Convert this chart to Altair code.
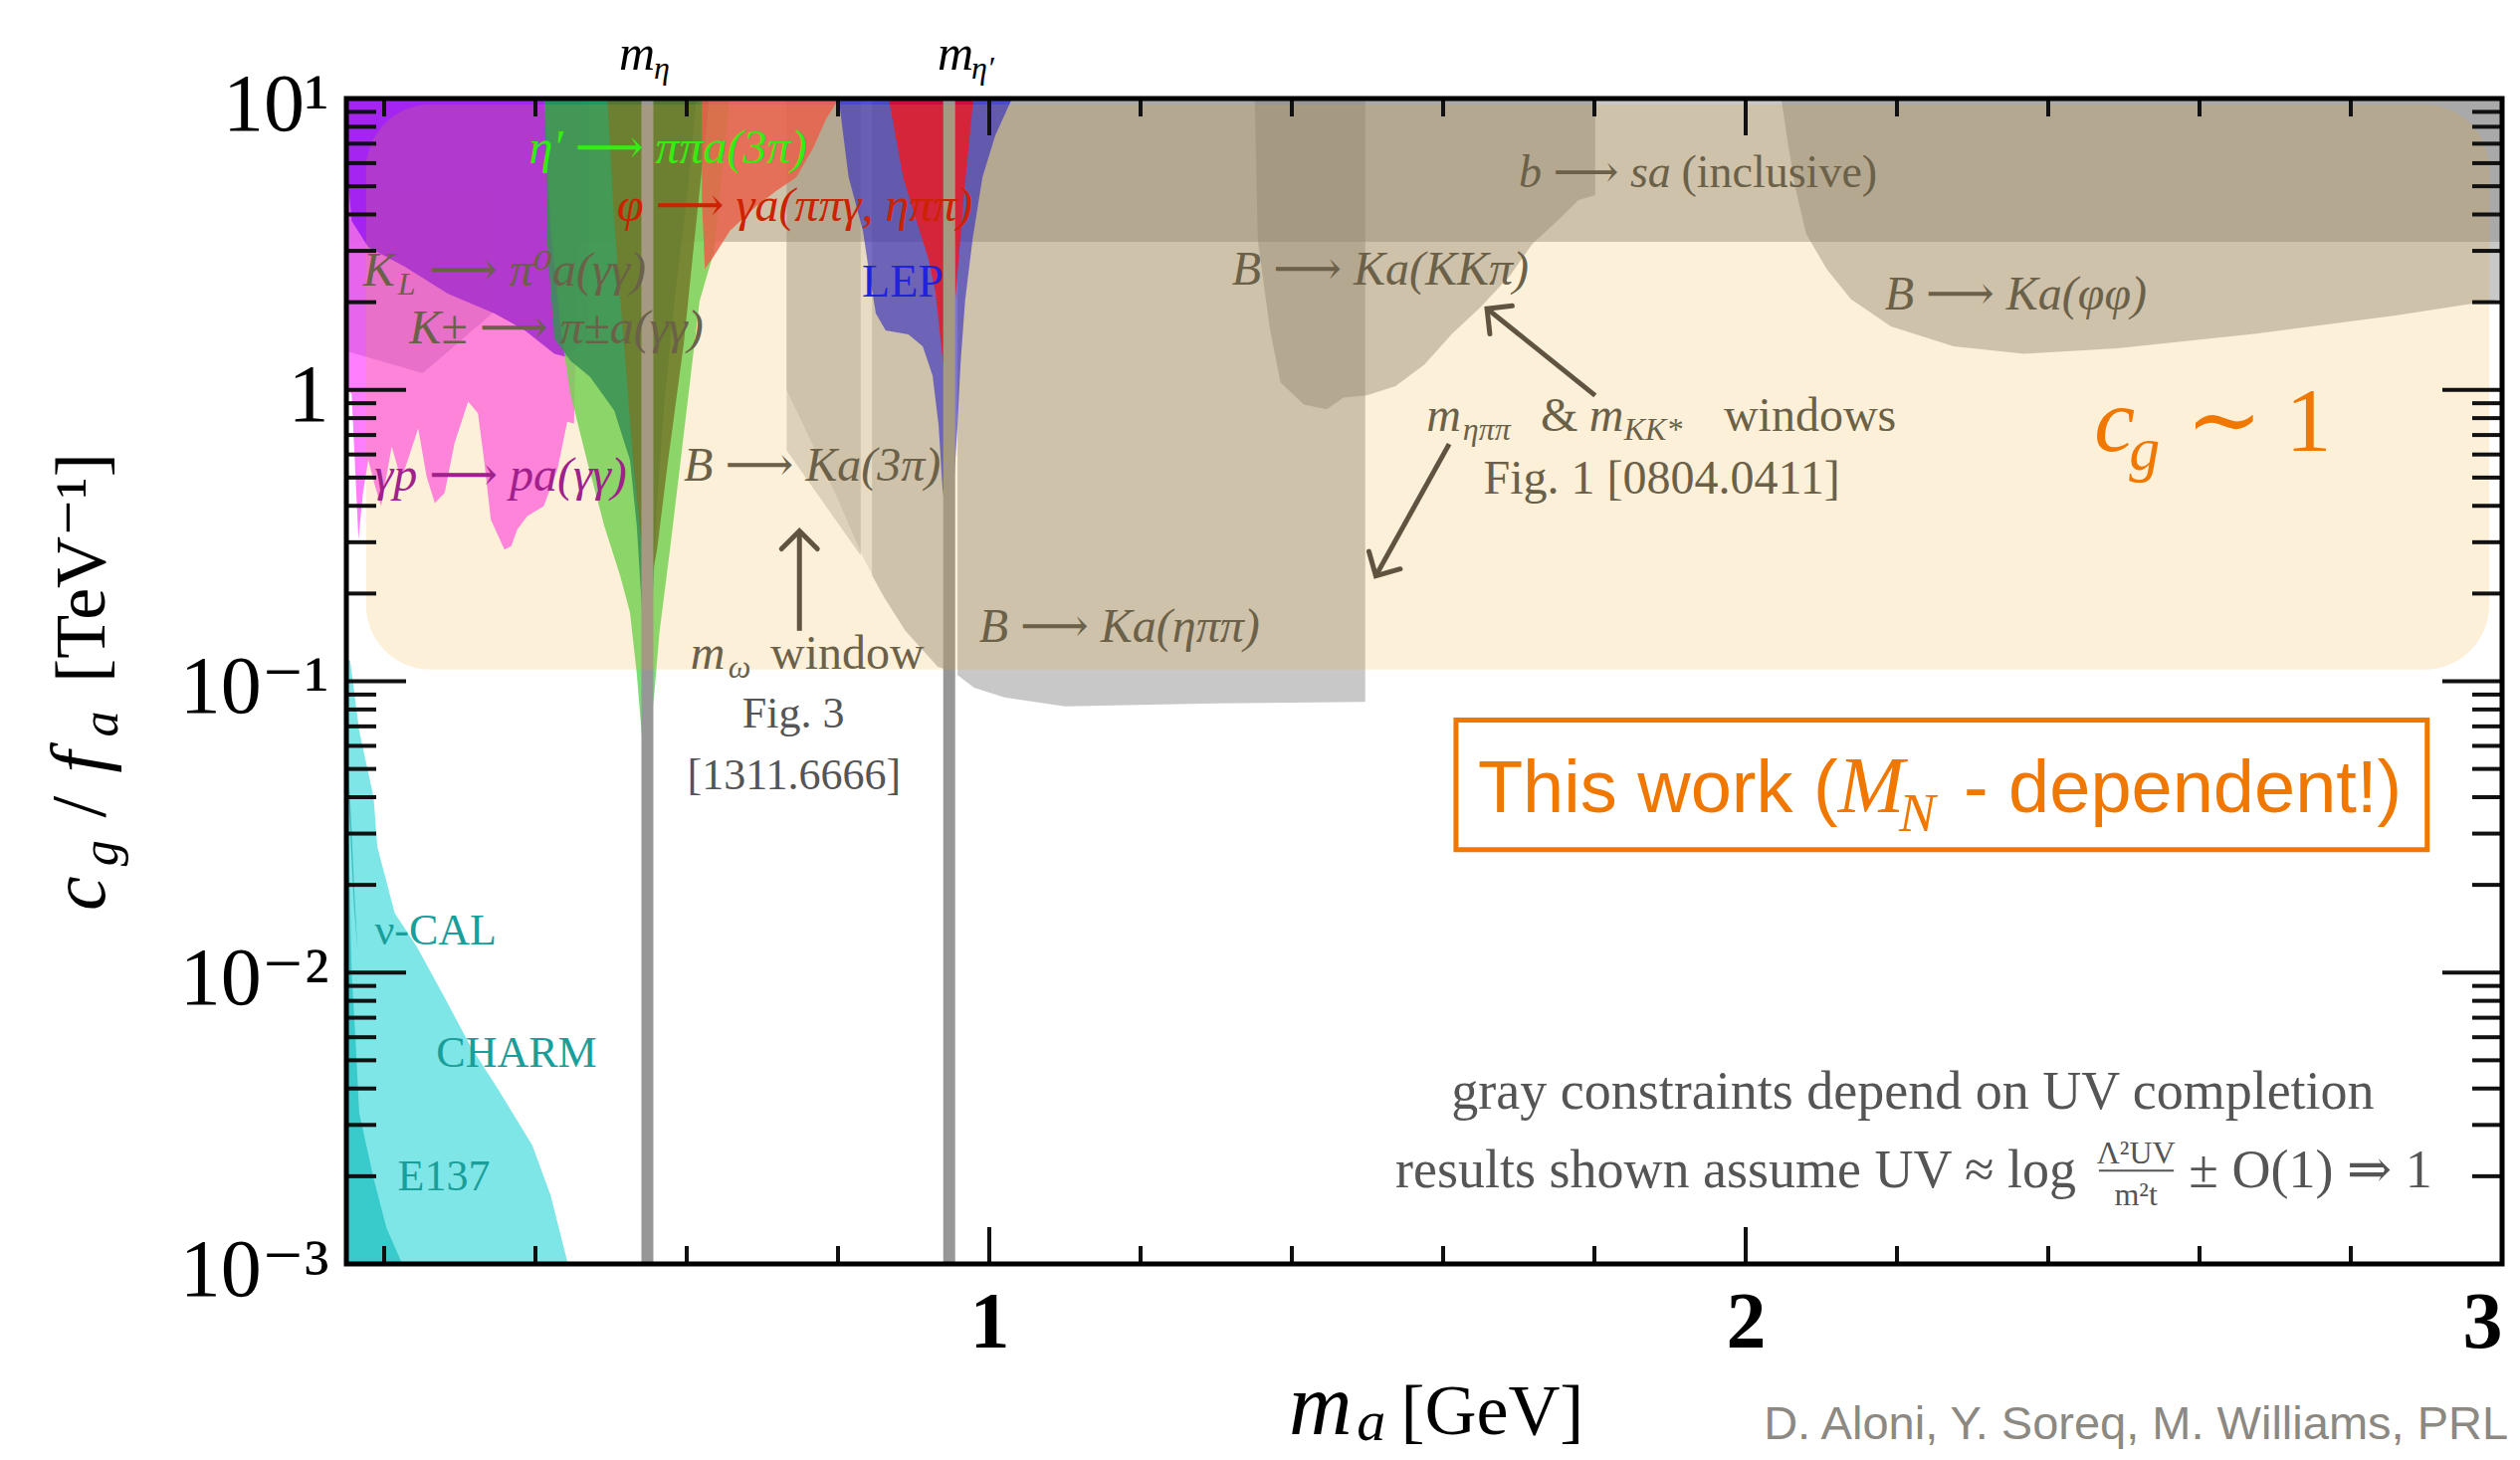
import altair as alt
import pandas as pd

# ---------------- data ----------------
X_DOMAIN = [0.15, 3.0]
Y_DOMAIN = [0.001, 10.0]

X_MAJOR = [1, 2, 3]
X_MINOR = [0.2, 0.4, 0.6, 0.8, 1.2, 1.4, 1.6, 1.8, 2.2, 2.4, 2.6, 2.8]
Y_MAJOR = [0.001, 0.01, 0.1, 1, 10]
Y_MINOR = [k * d for d in [0.001, 0.01, 0.1, 1] for k in range(2, 10)]

M_LINES = [0.548, 0.947]  # m_eta, m_eta'

# gray (UV dependent) constraints
BSA_X = [0.15, 3.0, 3.0, 0.15]
BSA_Y = [10, 10, 3.22, 3.22]
R1_X = [0.732, 0.830, 0.830, 0.732]
R1_Y = [10, 10, 0.27, 0.62]
R2_X = [0.732, 0.943, 0.943, 0.932, 0.889, 0.861, 0.832, 0.800, 0.767, 0.745, 0.732]
R2_Y = [10, 10, 0.11, 0.112, 0.149, 0.194, 0.27, 0.42, 0.645, 0.85, 1.0]
R3_X = [0.845, 0.943, 0.943, 0.932, 0.889, 0.861, 0.845]
R3_Y = [10, 10, 0.11, 0.112, 0.149, 0.194, 0.23]
ETAPIPI_X = [0.958, 1.497, 1.497, 1.30, 1.10, 1.02, 0.98, 0.958]
ETAPIPI_Y = [10, 10, 0.085, 0.084, 0.082, 0.088, 0.095, 0.105]
KKPI_X = [1.351, 1.355, 1.371, 1.385, 1.416, 1.446, 1.468, 1.499, 1.537, 1.575,
          1.612, 1.650, 1.688, 1.718, 1.755, 1.779, 1.801, 1.801]
KKPI_Y = [10, 3.27, 1.62, 1.06, 0.89, 0.857, 0.94, 0.957, 1.03, 1.22,
          1.56, 1.93, 2.46, 3.17, 3.89, 4.48, 4.66, 10]
PHIPHI_X = [2.047, 2.057, 2.066, 2.080, 2.107, 2.139, 2.192, 2.275, 2.368, 2.491,
            2.675, 2.859, 3.0, 3.0]
PHIPHI_Y = [10, 6.7, 4.89, 3.43, 2.60, 2.05, 1.65, 1.41, 1.33, 1.39,
            1.56, 1.80, 2.05, 10]

# coloured constraints
GP_X = [0.15, 0.15, 0.157, 0.166, 0.172, 0.179, 0.188, 0.196, 0.210, 0.221, 0.227,
        0.245, 0.256, 0.267, 0.280, 0.293, 0.311, 0.324, 0.332, 0.341, 0.359, 0.368,
        0.376, 0.389, 0.411, 0.429, 0.442, 0.451, 0.46]
GP_Y = [10, 1.0, 0.97, 0.307, 0.443, 0.575, 0.467, 0.399, 0.640, 0.505, 0.532,
        0.738, 0.505, 0.409, 0.443, 0.656, 0.911, 0.832, 0.575, 0.359, 0.283, 0.291,
        0.332, 0.368, 0.399, 0.532, 0.778, 0.767, 10]
KPM_X = [0.15, 0.15, 0.251, 0.35, 0.35]
KPM_Y = [5.0, 1.36, 1.14, 1.9, 5.0]
KL_X = [0.15, 0.15, 0.157, 0.179, 0.228, 0.284, 0.346, 0.386, 0.425, 0.44, 0.47, 0.47]
KL_Y = [10, 6.1, 3.8, 3.09, 2.64, 2.14, 1.83, 1.60, 1.33, 1.3, 1.5, 10]
F1_X = [0.412, 0.420, 0.433, 0.446, 0.468, 0.491, 0.512, 0.525, 0.534, 0.541, 0.549,
        0.550, 0.557, 0.564, 0.578, 0.591, 0.604, 0.617, 0.636, 0.646, 0.657]
F1_Y = [10, 3.62, 1.65, 0.973, 0.574, 0.341, 0.230, 0.172, 0.106, 0.0634, 0.053,
        0.0634, 0.090, 0.148, 0.285, 0.547, 1.05, 2.02, 2.98, 5.28, 10]
F2_X = [0.412, 0.416, 0.425, 0.446, 0.472, 0.504, 0.525, 0.534, 0.541, 0.546, 0.549,
        0.551, 0.555, 0.561, 0.571, 0.584, 0.600, 0.613]
F2_Y = [10, 3.05, 1.50, 1.26, 1.11, 0.851, 0.574, 0.341, 0.172, 0.088, 0.0619,
        0.088, 0.194, 0.426, 0.935, 2.06, 4.52, 10]
F3_X = [0.495, 0.504, 0.517, 0.530, 0.541, 0.549, 0.561, 0.574, 0.596, 0.613, 0.630]
F3_Y = [10, 3.86, 1.44, 0.539, 0.285, 0.194, 0.285, 0.539, 1.44, 3.86, 10]
PHI_X = [0.620, 0.801, 0.784, 0.767, 0.745, 0.718, 0.692, 0.657, 0.636, 0.624, 0.620]
PHI_Y = [10, 10, 8.47, 6.75, 5.37, 4.81, 4.27, 3.51, 2.88, 2.60, 4.52]
RED1_X = [0.867, 0.942, 0.942, 0.936, 0.929, 0.920, 0.903, 0.886, 0.876]
RED1_Y = [10, 10, 1.05, 1.45, 2.15, 2.79, 3.86, 5.37, 7.48]
RED2_X = [0.953, 0.979, 0.966, 0.955, 0.953]
RED2_Y = [10, 10, 4.52, 2.02, 4.52]
LEP_X = [0.801, 0.807, 0.814, 0.833, 0.841, 0.850, 0.863, 0.893, 0.912, 0.925, 0.933,
         0.938, 0.946, 0.953, 0.958, 0.962, 0.968, 0.978, 0.991, 1.008, 1.030]
LEP_Y = [10, 7.48, 5.37, 3.51, 2.54, 1.83, 1.60, 1.55, 1.41, 1.12, 0.757,
         0.465, 0.30, 0.465, 0.757, 1.23, 2.02, 3.30, 5.37, 7.48, 10]
CHARM_X = [0.15, 0.155, 0.167, 0.186, 0.191, 0.214, 0.243, 0.279, 0.314, 0.350, 0.396,
           0.420, 0.443, 0.15]
CHARM_Y = [0.118, 0.118, 0.0676, 0.040, 0.027, 0.016, 0.0123, 0.0083, 0.0056, 0.0040,
           0.00255, 0.00172, 0.001, 0.001]
E137_X = [0.15, 0.153, 0.157, 0.162, 0.167, 0.186, 0.203, 0.224, 0.15]
E137_Y = [0.06, 0.03, 0.01, 0.006, 0.0033, 0.00197, 0.00133, 0.001, 0.001]
NUCAL_X = [0.151, 0.156, 0.161, 0.165, 0.160, 0.154]
NUCAL_Y = [0.06, 0.035, 0.018, 0.0118, 0.017, 0.035]

CREAM_X = [0.176, 2.983]
CREAM_Y = [0.1096, 9.54]
BOX_X = [1.617, 2.901]
BOX_Y = [0.0264, 0.0736]
FRAC_X = [2.467, 2.566]
FRAC_Y = [0.00209]

ARROW_X1 = [0.749, 1.801, 1.608]
ARROW_Y1 = [0.149, 0.957, 0.652]
ARROW_X2 = [0.749, 1.658, 1.511]
ARROW_Y2 = [0.328, 1.90, 0.230]

AR = "⟶"
ANN_TEXT = ["m", "η", "m", "η′",
            f"η′ {AR} ππa(3π)", f"φ {AR} γa(ππγ, ηππ)",
            "K", "L", f"{AR} π⁰a(γγ)", f"K± {AR} π±a(γγ)",
            "LEP", f"γp {AR} pa(γγ)", f"B {AR} Ka(3π)",
            "m", "ω", "window", "Fig. 3", "[1311.6666]",
            f"b {AR} sa", "(inclusive)", f"B {AR} Ka(KKπ)",
            "m", "ηππ", "&", "m", "KK*", "windows", "Fig. 1 [0804.0411]",
            f"B {AR} Ka(ηππ)", f"B {AR} Ka(φφ)",
            "c", "g", "∼ 1",
            "ν-CAL", "CHARM", "E137",
            "gray constraints depend on UV completion",
            "results shown assume UV ≈ log", "Λ²UV", "m²t", "± O(1) ⇒ 1",
            "This work (", "M", "N", "- dependent!)",
            "m", "a", "[GeV]",
            "c", "g", "/", "f", "a", "[TeV⁻¹]",
            "D. Aloni, Y. Soreq, M. Williams, PRL"]
ANN_X = [0.5105, 0.5566, 0.9316, 0.9763,
         0.575, 0.743,
         0.172, 0.218, 0.4026, 0.4276,
         0.8855, 0.354, 0.766,
         0.605, 0.655, 0.7105, 0.741, 0.742,
         1.700, 1.915, 1.517,
         1.578, 1.626, 1.729, 1.793, 1.839, 1.971, 1.889,
         1.172, 2.357,
         2.461, 2.507, 2.582,
         0.268, 0.375, 0.279,
         2.221,
         2.437, 2.516, 2.516, 2.586,
         2.122, 2.122, 2.2026, 2.288,
         1.438, 1.505, 1.665,
         -0.170, -0.153, -0.170, -0.170, -0.153, -0.170,
         3.008]
ANN_Y = [12.56, 11.71, 12.56, 11.71,
         6.70, 4.24,
         2.28, 2.12, 2.28, 1.44,
         2.33, 0.45, 0.486,
         0.110, 0.103, 0.110, 0.0766, 0.047,
         5.55, 5.55, 2.56,
         0.721, 0.671, 0.721, 0.721, 0.671, 0.721, 0.491,
         0.152, 2.10,
         0.617, 0.531, 0.617,
         0.01387, 0.00526, 0.00198,
         0.00387,
         0.00207, 0.00239, 0.00172, 0.00207,
         0.03565, 0.03565, 0.0305, 0.03565,
         2.60e-4, 2.48e-4, 2.60e-4,
         0.0187, 0.0257, 0.0371, 0.0528, 0.0713, 0.245,
         2.50e-4]

# ---------------- styles ----------------
W, H = 2166, 1171
SERIF = "Liberation Serif, DejaVu Serif, DejaVu Sans, serif"
SANS = "Liberation Sans, Arial, sans-serif"
GRAYTXT = "#6B6148"
ORANGE = "#F07800"
GRAYFILL = "#808080"
GRAYA = 0.43

ANN_STYLE = ["metaL", "metasub", "metaL", "metasub",
             "green", "red",
             "grayL", "graysubL", "grayCb", "grayCb",
             "lep", "gpCb", "grayCb",
             "grayL", "graysubL", "grayupL", "fig", "fig",
             "grayLmS", "grayupLmS", "gray",
             "grayL", "graysubL", "grayupL", "grayL", "graysubL", "grayupL", "grayup",
             "gray", "gray",
             "cg", "cgsub", "cgrest",
             "teal", "teal", "teal",
             "note",
             "noteR", "frac", "frac", "noteL",
             "workR", "workM", "workN", "workL",
             "xt", "xtsub", "xtup",
             "yt", "ytsub", "ytup", "yt", "ytsub", "ytupT",
             "credit"]


def st(size, color, style="normal", align="center", baseline="middle", font=SERIF, angle=0):
    return dict(fontSize=size, color=color, fontStyle=style, align=align,
                baseline=baseline, font=font, angle=angle)


STY = {
    "metaL": st(50, "#000", "italic", "left", "alphabetic"),
    "metasub": st(32, "#000", "italic", "left", "alphabetic"),
    "green": st(48, "#33EE11", "italic"),
    "red": st(48, "#CC2200", "italic"),
    "gray": st(48, GRAYTXT, "italic"),
    "grayCb": st(48, GRAYTXT, "italic", "center", "alphabetic"),
    "grayL": st(48, GRAYTXT, "italic", "left", "alphabetic"),
    "graysubL": st(32, GRAYTXT, "italic", "left", "alphabetic"),
    "grayupL": st(48, GRAYTXT, "normal", "left", "alphabetic"),
    "grayLmS": st(46, GRAYTXT, "italic", "left", "middle"),
    "grayupLmS": st(46, GRAYTXT, "normal", "left", "middle"),
    "grayup": st(48, GRAYTXT, "normal"),
    "lep": st(46, "#2222DD"),
    "gpCb": st(48, "#A0208C", "italic", "center", "alphabetic"),
    "fig": st(44, "#555555"),
    "teal": st(44, "#1A9E9A"),
    "note": st(54, "#555555"),
    "noteR": st(54, "#555555", "normal", "right"),
    "noteL": st(54, "#555555", "normal", "left"),
    "frac": st(32, "#555555"),
    "cg": st(92, ORANGE, "italic", "left", "alphabetic"),
    "cgsub": st(62, ORANGE, "italic", "left", "alphabetic"),
    "cgrest": st(92, ORANGE, "normal", "left", "alphabetic"),
    "workR": st(74, ORANGE, "normal", "right", "alphabetic", SANS),
    "workL": st(74, ORANGE, "normal", "left", "alphabetic", SANS),
    "workM": st(80, ORANGE, "italic", "left", "alphabetic"),
    "workN": st(55, ORANGE, "italic", "left", "alphabetic"),
    "xt": st(88, "#000", "italic", "center", "alphabetic"),
    "xtsub": st(58, "#000", "italic", "center", "alphabetic"),
    "xtup": st(72, "#000", "normal", "center", "alphabetic"),
    "yt": st(78, "#000", "italic", "center", "alphabetic", SERIF, 270),
    "ytsub": st(52, "#000", "italic", "center", "alphabetic", SERIF, 270),
    "ytup": st(78, "#000", "normal", "center", "alphabetic", SERIF, 270),
    "ytupT": st(72, "#000", "normal", "center", "alphabetic", SERIF, 270),
    "credit": st(47, "#8C8882", "normal", "right", "alphabetic", SANS),
}

xscale = alt.Scale(domain=X_DOMAIN, nice=False, zero=False)
yscale = alt.Scale(type="log", domain=Y_DOMAIN, nice=False)

XAXIS = alt.Axis(values=X_MAJOR, format="d", domain=False, ticks=False, tickSize=0,
                 grid=False, labelFont=SERIF, labelFontSize=80, labelFontWeight="bold",
                 labelColor="#000", labelPadding=20, labelBaseline="top")
YAXIS = alt.Axis(values=Y_MAJOR, domain=False, ticks=False, tickSize=0, grid=False,
                 labelFont=SERIF, labelFontSize=82, labelColor="#000", labelPadding=18,
                 labelBaseline="middle", labelOffset=6,
                 labelExpr="datum.value >= 5 ? '10¹' : datum.value >= 0.5 ? '1' : "
                           "datum.value >= 0.05 ? '10⁻¹' : datum.value >= 0.005 ? '10⁻²' : '10⁻³'")


def X(f):
    return alt.X(f + ":Q", scale=xscale, axis=XAXIS, title=None)


def Y(f):
    return alt.Y(f + ":Q", scale=yscale, axis=YAXIS, title=None)


def poly(xs_, ys_, color, opacity):
    df = pd.DataFrame({"x": xs_, "y": ys_, "i": list(range(len(xs_)))})
    return alt.Chart(df).mark_line(filled=True, interpolate="linear-closed", color=color,
                                   opacity=opacity, clip=True, strokeWidth=0).encode(
        x=X("x"), y=Y("y"), order=alt.Order("i:Q"))


layers = []
# gray constraints (bottom)
layers += [
    poly(BSA_X, BSA_Y, GRAYFILL, GRAYA),
    poly(R2_X, R2_Y, GRAYFILL, 0.2),
    poly(R1_X, R1_Y, GRAYFILL, 0.29),
    poly(R3_X, R3_Y, GRAYFILL, 0.29),
    poly(ETAPIPI_X, ETAPIPI_Y, GRAYFILL, GRAYA),
    poly(KKPI_X, KKPI_Y, GRAYFILL, GRAYA),
    poly(PHIPHI_X, PHIPHI_Y, GRAYFILL, GRAYA),
]

# coloured constraints
layers += [
    poly(CHARM_X, CHARM_Y, "#00CED1", 0.5),
    poly(E137_X, E137_Y, "#00B4B4", 0.55),
    poly(NUCAL_X, NUCAL_Y, "#11A5A5", 0.6),
    poly(GP_X, GP_Y, "#FF77FF", 0.95),
    poly(KPM_X, KPM_Y, "#C040D0", 0.4),
    poly(KL_X, KL_Y, "#A020F0", 0.95),
    poly(F1_X, F1_Y, "#5FD95F", 0.85),
    poly(F2_X, F2_Y, "#148C5F", 0.85),
    poly(F3_X, F3_Y, "#5B712E", 0.85),
    poly(PHI_X, PHI_Y, "#E85353", 0.85),
    poly(LEP_X, LEP_Y, "#0C12E1", 0.62),
    poly(RED1_X, RED1_Y, "#DD0431", 0.9),
    poly(RED2_X, RED2_Y, "#DD0431", 0.9),
]

# meson mass lines
layers.append(alt.Chart(pd.DataFrame({"x": M_LINES})).mark_rule(
    color="#979797", strokeWidth=12).encode(x=X("x"), y=alt.value(0), y2=alt.value(H)))

# c_g ~ 1 overlay
layers.append(alt.Chart(pd.DataFrame({"x": [CREAM_X[0]], "x2": [CREAM_X[1]],
                                      "y": [CREAM_Y[0]], "y2": [CREAM_Y[1]]})).mark_rect(
    cornerRadius=65, color="#F2A51C", opacity=0.17).encode(
    x=X("x"), x2="x2:Q", y=Y("y"), y2="y2:Q"))

# "This work" box
layers.append(alt.Chart(pd.DataFrame({"x": [BOX_X[0]], "x2": [BOX_X[1]],
                                      "y": [BOX_Y[0]], "y2": [BOX_Y[1]]})).mark_rect(
    fill="white", stroke=ORANGE, strokeWidth=5).encode(
    x=X("x"), x2="x2:Q", y=Y("y"), y2="y2:Q"))

# fraction bar
layers.append(alt.Chart(pd.DataFrame({"x": [FRAC_X[0]], "x2": [FRAC_X[1]], "y": FRAC_Y})).mark_rule(
    color="#555555", strokeWidth=2).encode(x=X("x"), x2="x2:Q", y=Y("y")))


# ticks (inward, mirrored)
def yt(vals, x1, x2):
    return alt.Chart(pd.DataFrame({"y": vals})).mark_rule(color="#111", strokeWidth=4).encode(
        y=Y("y"), x=alt.value(x1), x2=alt.value(x2))


def xt(vals, y1, y2):
    return alt.Chart(pd.DataFrame({"x": vals})).mark_rule(color="#111", strokeWidth=4).encode(
        x=X("x"), y=alt.value(y1), y2=alt.value(y2))


layers += [yt(Y_MAJOR, 0, 60), yt(Y_MINOR, 0, 30), yt(Y_MAJOR, W, W - 60), yt(Y_MINOR, W, W - 30),
           xt(X_MAJOR, H, H - 37), xt(X_MINOR, H, H - 18), xt(X_MAJOR, 0, 37), xt(X_MINOR, 0, 18)]

# frame
layers.append(alt.Chart(pd.DataFrame({"a": [0]})).mark_rect(
    fillOpacity=0, stroke="#000", strokeWidth=5).encode(
    x=alt.value(0), x2=alt.value(W), y=alt.value(0), y2=alt.value(H)))

# arrows
ARROW_ANGLE = [0, 308.6, 209.3]
for i in range(len(ARROW_X1)):
    d = pd.DataFrame({"x": [ARROW_X1[i]], "y": [ARROW_Y1[i]],
                      "x2": [ARROW_X2[i]], "y2": [ARROW_Y2[i]]})
    layers.append(alt.Chart(d).mark_rule(color="#5E5440", strokeWidth=5).encode(
        x=X("x"), y=Y("y"), x2="x2:Q", y2="y2:Q"))
    layers.append(alt.Chart(d).mark_point(
        shape="M-1,1L0,0L1,1", filled=False, color="#5E5440", strokeWidth=5,
        size=1300, angle=ARROW_ANGLE[i], opacity=1, strokeCap="round").encode(
        x=X("x2"), y=Y("y2")))

# annotations
for t, xv, yv, sk in zip(ANN_TEXT, ANN_X, ANN_Y, ANN_STYLE):
    layers.append(alt.Chart(pd.DataFrame({"x": [xv], "y": [yv]})).mark_text(
        text=t, **STY[sk]).encode(x=X("x"), y=Y("y")))

chart = alt.layer(*layers).properties(
    width=W, height=H,
    autosize=alt.AutoSizeParams(type="none"),
    padding={"left": 340, "top": 91, "right": 10, "bottom": 189},
).configure_view(strokeWidth=0)

chart.save("out.html", embed_options={"renderer": "svg", "actions": False})
